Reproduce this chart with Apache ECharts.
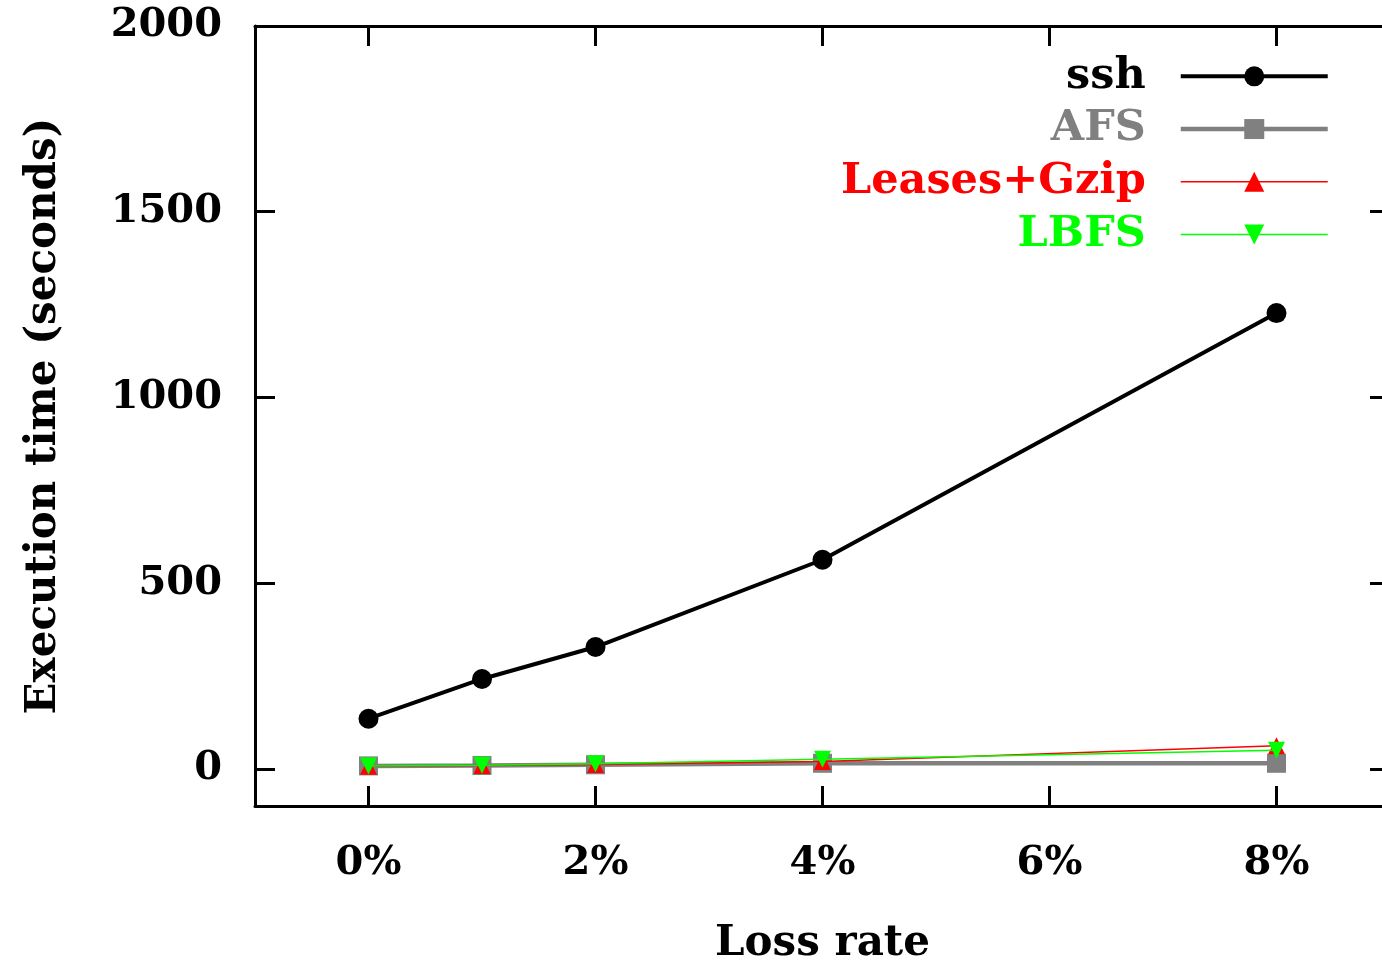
<!DOCTYPE html>
<html><head><meta charset="utf-8">
<script src="https://cdn.jsdelivr.net/npm/echarts@6/dist/echarts.min.js"></script>
<style>html,body{margin:0;padding:0;background:#fff}#c{width:1382px;height:966px}</style>
</head><body><div id="c"></div>
<script>
const lossRates = [0, 1, 2, 4, 8];
const xTickValues = [0, 2, 4, 6, 8];
const yTickValues = [0, 500, 1000, 1500, 2000];
const seriesNames = ['ssh', 'AFS', 'Leases+Gzip', 'LBFS'];
const ssh = [135, 242, 328, 563, 1227];
const afs = [8, 9, 11, 15, 15];
const leasesGzip = [7, 9, 12, 20, 62];
const lbfs = [8, 10, 14, 26, 50];

const FONT = '"DejaVu Serif",serif';
const colors = ['#000000', '#808080', '#ff0000', '#00ff00'];
const widths = [4, 4.5, 1.5, 1.5];
const symbols = ['circle', 'rect', 'triangle', 'triangle'];
const sizes = [20, 19, 17, 17];
const rot = [0, 0, 0, 180];
const values = [ssh, afs, leasesGzip, lbfs];

const chart = echarts.init(document.getElementById('c'), null, {renderer: 'canvas'});
const lineSt = {show: true, onZero: false, lineStyle: {color: '#000', width: 3}};
const tickSt = (vals) => ({show: true, inside: true, length: 20, lineStyle: {color: '#000', width: 3}, customValues: vals});
const tickFont = {fontFamily: FONT, fontWeight: 'bold', fontSize: 40, color: '#000'};
const nameFont = {fontFamily: FONT, fontWeight: 'bold', fontSize: 42, color: '#000'};
chart.setOption({
  animation: false,
  backgroundColor: '#fff',
  grid: {left: 255, top: 26, width: 1135, height: 780, outerBoundsMode: 'none', containLabel: false},
  xAxis: [
    {type: 'value', min: -1, max: 9, position: 'bottom', axisLine: lineSt, axisTick: tickSt(xTickValues), splitLine: {show: false},
      name: 'Loss rate', nameLocation: 'middle', nameGap: 117, nameTextStyle: nameFont,
      axisLabel: Object.assign({show: true, margin: 38, customValues: xTickValues, formatter: v => v + '%'}, tickFont)},
    {type: 'value', min: -1, max: 9, position: 'top', axisLine: lineSt, axisTick: tickSt(xTickValues), splitLine: {show: false},
      axisLabel: {show: false}}
  ],
  yAxis: [
    {type: 'value', min: -100, max: 2000, position: 'left', axisLine: lineSt, axisTick: tickSt(yTickValues), splitLine: {show: false},
      name: 'Execution time (seconds)', nameLocation: 'middle', nameGap: 190, nameTextStyle: nameFont,
      axisLabel: Object.assign({show: true, margin: 33, customValues: yTickValues, formatter: v => String(v)}, tickFont)},
    {type: 'value', min: -100, max: 2000, position: 'right', axisLine: lineSt, axisTick: tickSt(yTickValues), splitLine: {show: false},
      axisLabel: {show: false}}
  ],
  legend: {
    show: true, orient: 'vertical', right: 47, top: 45, align: 'right',
    itemWidth: 147, itemHeight: 25, itemGap: 0,
    textStyle: {fontFamily: FONT, fontWeight: 'bold', fontSize: 43, lineHeight: 52.7, padding: [0, 30, 0, 0]},
    data: seriesNames.map((n, i) => ({name: n, textStyle: {color: colors[i]}, lineStyle: {width: widths[i], color: colors[i]}}))
  },
  series: seriesNames.map((n, i) => ({
    name: n, type: 'line',
    data: lossRates.map((x, j) => [x, values[i][j]]),
    symbol: symbols[i], symbolSize: sizes[i], symbolRotate: rot[i], showSymbol: true,
    itemStyle: {color: colors[i]},
    lineStyle: {color: colors[i], width: widths[i]},
    z: 2 + i
  }))
});
</script></body></html>
